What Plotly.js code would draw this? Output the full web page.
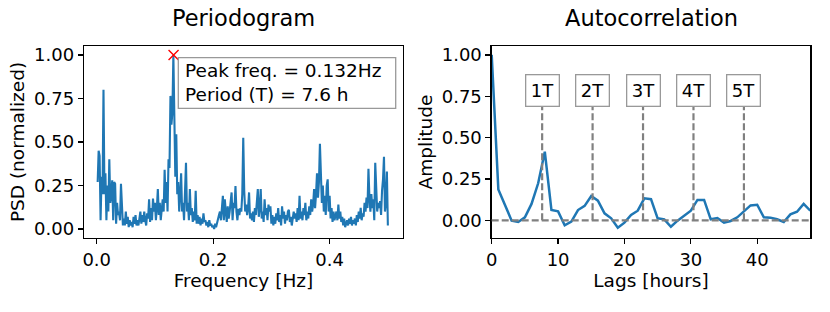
<!DOCTYPE html>
<html>
<head>
<meta charset="utf-8">
<script src="https://cdn.plot.ly/plotly-3.0.1.min.js"></script>
<style>
html,body{margin:0;padding:0;background:#fff;}
#chart{width:830px;height:312px;}
</style>
</head>
<body>
<div id="chart"></div>
<script>
// ---- Periodogram data (normalized PSD), frequency grid starts at FREQ_START with step FREQ_STEP ----
const FREQ_START = 1/600;
const FREQ_STEP = 1/600;
const psd = [
  0.27,0.45,0.42,0.05,0.30,0.20,0.80,0.20,0.32,0.05,
  0.25,0.10,0.40,0.15,0.20,0.28,0.05,0.27,0.26,0.03,
  0.15,0.08,0.10,0.05,0.26,0.10,0.02,0.06,0.02,0.10,
  0.03,0.07,0.01,0.05,0.02,0.04,0.01,0.07,0.03,0.08,
  0.02,0.05,0.02,0.06,0.10,0.03,0.08,0.04,0.10,0.05,
  0.02,0.09,0.06,0.17,0.04,0.12,0.05,0.175,0.10,0.15,
  0.05,0.12,0.23,0.08,0.15,0.05,0.13,0.17,0.10,0.34,
  0.15,0.27,0.10,0.40,0.35,0.765,0.60,0.67,1.00,0.67,
  0.30,0.544,0.20,0.27,0.10,0.20,0.32,0.10,0.15,0.05,
  0.20,0.38,0.10,0.15,0.05,0.23,0.08,0.12,0.04,0.10,
  0.05,0.22,0.03,0.08,0.03,0.07,0.02,0.06,0.03,0.09,
  0.04,0.05,0.02,0.04,0.01,0.05,0.02,0.03,0.01,0.02,
  0.00,0.03,0.01,0.04,0.05,0.08,0.10,0.05,0.12,0.19,
  0.05,0.17,0.10,0.04,0.13,0.06,0.10,0.15,0.21,0.05,
  0.15,0.12,0.247,0.10,0.05,0.115,0.08,0.12,0.10,0.20,
  0.525,0.22,0.10,0.14,0.08,0.12,0.21,0.06,0.09,0.05,
  0.10,0.04,0.12,0.08,0.15,0.23,0.07,0.12,0.23,0.06,
  0.10,0.04,0.17,0.08,0.12,0.05,0.14,0.10,0.13,0.03,
  0.08,0.02,0.07,0.03,0.09,0.05,0.12,0.04,0.08,0.02,
  0.13,0.06,0.10,0.03,0.08,0.05,0.10,0.11,0.04,0.07,
  0.02,0.05,0.10,0.06,0.09,0.04,0.12,0.05,0.19,0.06,
  0.10,0.05,0.12,0.08,0.15,0.05,0.10,0.06,0.13,0.08,
  0.17,0.10,0.14,0.23,0.12,0.20,0.32,0.18,0.27,0.49,
  0.36,0.15,0.25,0.10,0.19,0.08,0.25,0.285,0.10,0.19,
  0.06,0.12,0.04,0.10,0.05,0.08,0.10,0.05,0.14,0.06,
  0.10,0.04,0.07,0.02,0.06,0.01,0.04,0.05,0.02,0.06,
  0.03,0.07,0.02,0.05,0.03,0.06,0.02,0.08,0.04,0.10,
  0.06,0.122,0.05,0.09,0.07,0.15,0.10,0.18,0.12,0.346,
  0.18,0.10,0.20,0.12,0.17,0.05,0.38,0.20,0.10,0.15,
  0.12,0.16,0.08,0.22,0.285,0.415,0.10,0.15,0.33,0.02
];
const PEAK_FREQ = 0.132;
const PEAK_PSD = 1.0;
const PERIOD_H = 7.6;

// ---- Autocorrelation (hourly lags) ----
const lags = [0,1,2,3,4,5,6,7,8,9,10,11,12,13,14,15,16,17,18,19,20,21,22,23,24,
              25,26,27,28,29,30,31,32,33,34,35,36,37,38,39,40,41,42,43,44,45,46,47,48];
const acf = [1.0,0.187,0.093,-0.002,-0.01,0.018,0.099,0.224,0.415,0.062,0.054,-0.03,-0.008,0.062,0.087,0.147,0.119,0.042,0.012,-0.045,-0.014,0.032,0.058,0.133,0.128,
             0.012,0.006,-0.039,-0.002,0.026,0.058,0.123,0.123,0.006,0.014,-0.014,-0.004,0.018,0.052,0.09,0.094,0.018,0.016,0.006,-0.01,0.036,0.052,0.099,0.058];
const periodLabels = ['1T','2T','3T','4T','5T'];
const periodMultiples = [1,2,3,4,5];

const BLUE = '#1f77b4';
const GREY = '#808080';
const FONT = 'DejaVu Sans, sans-serif';
const TICK = 18, LABEL = 18.5, TITLE = 22.5;
const W = 830, H = 312;

const markerX = periodMultiples.map(k => k*PERIOD_H);
const vx = [], vy = [];
markerX.forEach(x => { vx.push(x, x, null); vy.push(0, 0.69, null); });

const traces = [
  {x0: FREQ_START, dx: FREQ_STEP, y: psd, type: 'scatter', mode: 'lines',
   line: {color: BLUE, width: 2.1}, xaxis: 'x', yaxis: 'y', hoverinfo: 'skip'},
  {x: [PEAK_FREQ], y: [PEAK_PSD], type: 'scatter', mode: 'markers',
   marker: {symbol: 'x-thin', size: 10, line: {color: 'red', width: 1.4}, color: 'red'},
   xaxis: 'x', yaxis: 'y'},
  {x: lags, y: acf, type: 'scatter', mode: 'lines',
   line: {color: BLUE, width: 2.5}, xaxis: 'x2', yaxis: 'y2'},
  {x: vx, y: vy, type: 'scatter', mode: 'lines',
   line: {color: GREY, width: 2.2, dash: '7px,3px'}, xaxis: 'x2', yaxis: 'y2'}
];

const axisBase = {
  showline: true, mirror: true, linecolor: '#000', linewidth: 1.3,
  ticks: 'outside', ticklen: 5, tickcolor: '#000', tickwidth: 1.3,
  showgrid: false, zeroline: false,
  tickfont: {family: FONT, size: TICK, color: '#000'}
};

const boxAnn = periodLabels.map((t, i) => ({
  x: markerX[i], y: 0.782, xref: 'x2', yref: 'y2', text: t, showarrow: false,
  font: {family: FONT, size: TICK, color: '#000'},
  bgcolor: '#fff', bordercolor: '#999', borderwidth: 1.3, borderpad: 4.5
}));

const layout = {
  width: W, height: H,
  margin: {l: 0, r: 0, t: 0, b: 0},
  paper_bgcolor: '#fff', plot_bgcolor: '#fff',
  showlegend: false,
  font: {family: FONT, color: '#000'},
  xaxis: Object.assign({}, axisBase, {
    domain: [84/W, 403/W], range: [-0.0218, 0.526],
    tickvals: [0, 0.2, 0.4], ticktext: ['0.0', '0.2', '0.4'],
    title: {text: 'Frequency [Hz]', font: {family: FONT, size: LABEL}, standoff: 4},
    anchor: 'y'
  }),
  yaxis: Object.assign({}, axisBase, {
    domain: [74/H, 266/H], range: [-0.052, 1.052],
    tickvals: [0, 0.25, 0.5, 0.75, 1.0], ticktext: ['0.00','0.25','0.50','0.75','1.00'],
    title: {text: 'PSD (normalized)', font: {family: FONT, size: LABEL}, standoff: 4},
    anchor: 'x'
  }),
  xaxis2: Object.assign({}, axisBase, {
    domain: [491.7/W, 810.3/W], range: [0, 48],
    tickvals: [0, 10, 20, 30, 40],
    title: {text: 'Lags [hours]', font: {family: FONT, size: LABEL}, standoff: 4},
    anchor: 'y2'
  }),
  yaxis2: Object.assign({}, axisBase, {
    domain: [74/H, 266/H], range: [-0.107, 1.054],
    tickvals: [0, 0.25, 0.5, 0.75, 1.0], ticktext: ['0.00','0.25','0.50','0.75','1.00'],
    title: {text: 'Amplitude', font: {family: FONT, size: LABEL}, standoff: 4},
    anchor: 'x2'
  }),
  shapes: [
    {type: 'line', xref: 'x2 domain', x0: 0, x1: 1, yref: 'y2', y0: 0, y1: 0,
     line: {color: GREY, width: 2.2, dash: '7px,3px'}},
    {type: 'rect', layer: 'above', xref: 'paper', yref: 'paper',
     x0: 178.3/W, x1: 395.7/W, y0: 1 - 108.3/H, y1: 1 - 57.7/H,
     fillcolor: '#fff', line: {color: '#999', width: 1.3}}
  ],
  annotations: [
    {xref: 'paper', yref: 'paper', x: (84+403)/2/W, y: 1 - 18/H, text: 'Periodogram',
     showarrow: false, font: {family: FONT, size: TITLE}, xanchor: 'center', yanchor: 'middle'},
    {xref: 'paper', yref: 'paper', x: (491.7+810.3)/2/W, y: 1 - 18/H, text: 'Autocorrelation',
     showarrow: false, font: {family: FONT, size: TITLE}, xanchor: 'center', yanchor: 'middle'},
    {xref: 'paper', yref: 'paper', x: 184/W, y: 1 - 83/H, xanchor: 'left', yanchor: 'middle', align: 'left',
     text: 'Peak freq. = ' + PEAK_FREQ.toFixed(3) + 'Hz<br>Period (T) = ' + PERIOD_H + ' h',
     showarrow: false, font: {family: FONT, size: 18.5, color: '#000'}, borderpad: 0}
  ].concat(boxAnn)
};

Plotly.newPlot('chart', traces, layout, {displayModeBar: false, staticPlot: true});
</script>
</body>
</html>
